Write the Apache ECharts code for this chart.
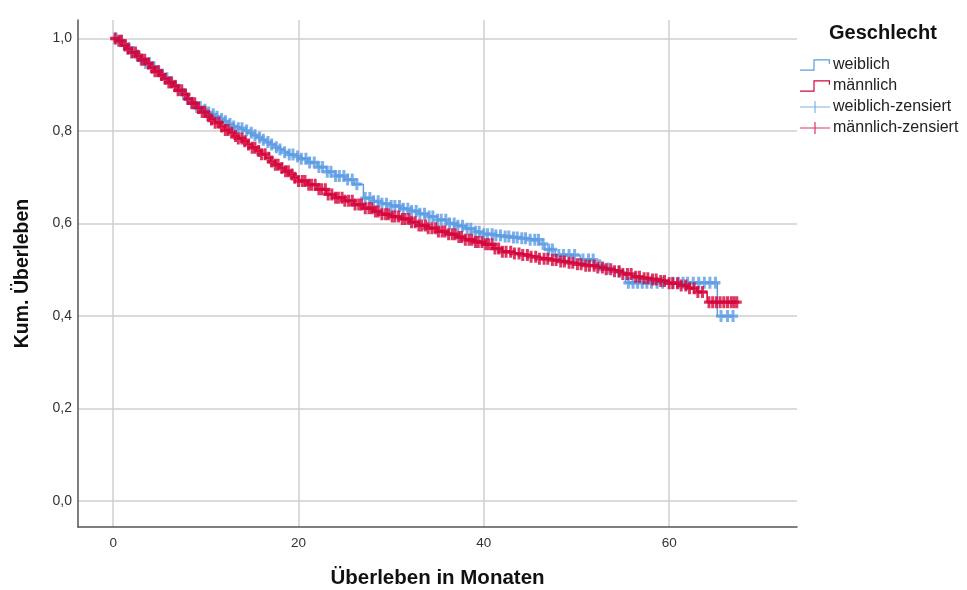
<!DOCTYPE html>
<html>
<head>
<meta charset="utf-8">
<script src="https://cdn.jsdelivr.net/npm/echarts@6/dist/echarts.min.js"></script>
<style>
html, body { margin: 0; padding: 0; background: #fff; }
#km { width: 967px; height: 590px; }
</style>
</head>
<body>
<div id="km"></div>
<script>
// Kaplan-Meier: Ueberleben nach Geschlecht
var xTicks = [0, 20, 40, 60];
var yTicks = [0, 0.2, 0.4, 0.6, 0.8, 1.0];

var femaleTime = [0, 0.5, 1, 1.5, 2, 2.5, 3, 3.5, 4, 4.5, 5, 5.5, 6, 6.5, 7, 7.5, 8, 8.5, 9, 9.5, 10, 10.5, 11, 11.5, 12, 12.5, 13, 13.5, 14, 14.5, 15, 15.5, 16, 16.5, 17, 17.5, 18, 18.5, 19, 19.5, 20, 21, 22, 23, 24, 25, 26, 27, 28, 29, 30, 31, 32, 33, 34, 35, 36, 37, 38, 39, 40, 41, 42, 43, 44, 45, 46, 46.6, 47.7, 50.4, 52, 53, 54.2, 55.3, 65.2, 67.0];
var femaleSurv = [1.0, 0.995, 0.986, 0.979, 0.971, 0.963, 0.955, 0.947, 0.938, 0.930, 0.922, 0.914, 0.906, 0.898, 0.889, 0.880, 0.870, 0.861, 0.852, 0.846, 0.840, 0.836, 0.831, 0.826, 0.821, 0.815, 0.810, 0.806, 0.801, 0.796, 0.791, 0.786, 0.781, 0.776, 0.771, 0.765, 0.760, 0.754, 0.749, 0.745, 0.740, 0.732, 0.722, 0.712, 0.703, 0.695, 0.685, 0.655, 0.648, 0.643, 0.638, 0.632, 0.627, 0.621, 0.615, 0.608, 0.600, 0.595, 0.589, 0.582, 0.577, 0.574, 0.572, 0.570, 0.568, 0.565, 0.556, 0.544, 0.532, 0.522, 0.510, 0.503, 0.495, 0.472, 0.400, 0.400];
var femaleCensored = [0.3, 0.8, 1.2, 1.7, 2.1, 2.6, 3.0, 3.5, 3.9, 4.4, 4.8, 5.3, 5.8, 6.2, 6.7, 7.1, 7.6, 8.0, 8.5, 9.0, 9.4, 9.9, 10.3, 10.8, 11.2, 11.7, 12.1, 12.6, 13.0, 13.5, 13.9, 14.4, 14.9, 15.3, 15.8, 16.2, 16.7, 17.1, 17.6, 18.0, 18.5, 19.0, 19.4, 19.9, 20.3, 20.8, 21.2, 21.7, 22.2, 22.6, 23.1, 23.5, 24.0, 24.4, 24.9, 25.3, 25.8, 26.3, 27.2, 27.7, 28.1, 28.6, 29.0, 29.5, 30.0, 30.4, 30.9, 31.3, 31.8, 32.2, 32.7, 33.1, 33.6, 34.1, 34.5, 35.0, 35.4, 35.9, 36.3, 36.8, 37.2, 37.7, 38.2, 38.6, 39.1, 39.5, 40.0, 40.4, 40.9, 41.3, 41.8, 42.3, 42.7, 43.2, 43.6, 44.1, 44.5, 45.0, 45.5, 45.9, 46.4, 47.0, 47.4, 48.1, 48.6, 49.2, 49.8, 50.7, 51.3, 51.8, 52.5, 53.4, 54.6, 55.6, 56.1, 56.6, 57.1, 57.6, 58.1, 58.7, 59.3, 60.4, 61.0, 61.5, 62.0, 62.6, 63.2, 63.8, 64.4, 65.0, 65.6, 66.3, 66.9];

var maleTime = [0, 0.5, 1, 1.5, 2, 2.5, 3, 3.5, 4, 4.5, 5, 5.5, 6, 6.5, 7, 7.5, 8, 8.5, 9, 9.5, 10, 10.5, 11, 11.5, 12, 12.5, 13, 13.5, 14, 14.5, 15, 15.5, 16, 16.5, 17, 17.5, 18, 18.5, 19, 19.5, 20, 21, 22, 23, 24, 25, 26, 27, 28, 29, 30, 31, 32, 33, 34, 35, 36, 37, 38, 39, 40, 41, 42, 43, 44, 45, 46, 47, 48, 49, 50, 51, 52, 53, 54, 55, 56, 57, 58, 59, 60, 61, 62, 63, 64.1, 67.3];
var maleSurv = [1.0, 0.995, 0.985, 0.978, 0.970, 0.962, 0.954, 0.946, 0.937, 0.929, 0.921, 0.913, 0.905, 0.897, 0.888, 0.879, 0.869, 0.860, 0.850, 0.841, 0.832, 0.825, 0.818, 0.810, 0.802, 0.796, 0.789, 0.784, 0.778, 0.771, 0.764, 0.757, 0.750, 0.742, 0.734, 0.727, 0.720, 0.713, 0.706, 0.699, 0.692, 0.684, 0.674, 0.663, 0.656, 0.649, 0.641, 0.633, 0.626, 0.620, 0.615, 0.610, 0.603, 0.596, 0.590, 0.583, 0.577, 0.571, 0.565, 0.560, 0.555, 0.546, 0.539, 0.535, 0.532, 0.528, 0.524, 0.521, 0.518, 0.515, 0.512, 0.509, 0.505, 0.501, 0.497, 0.491, 0.485, 0.482, 0.479, 0.476, 0.471, 0.466, 0.460, 0.452, 0.430, 0.430];
var maleCensored = [0.2, 0.6, 0.9, 1.3, 1.6, 2.0, 2.4, 2.7, 3.1, 3.4, 3.8, 4.2, 4.5, 4.9, 5.2, 5.6, 6.0, 6.3, 6.7, 7.0, 7.4, 7.8, 8.1, 8.5, 8.8, 9.2, 9.6, 9.9, 10.3, 10.6, 11.0, 11.4, 11.7, 12.1, 12.4, 12.8, 13.2, 13.5, 13.9, 14.2, 14.6, 15.0, 15.3, 15.7, 16.0, 16.4, 16.8, 17.1, 17.5, 17.8, 18.2, 18.6, 18.9, 19.3, 19.6, 20.0, 20.4, 20.7, 21.1, 21.4, 21.8, 22.2, 22.5, 22.9, 23.2, 23.6, 24.0, 24.3, 24.7, 25.0, 25.4, 25.8, 26.1, 26.5, 26.8, 27.2, 27.6, 27.9, 28.3, 28.6, 29.0, 29.4, 29.7, 30.1, 30.4, 30.8, 31.2, 31.5, 31.9, 32.2, 32.6, 33.0, 33.3, 33.7, 34.0, 34.4, 34.8, 35.1, 35.5, 35.8, 36.2, 36.6, 36.9, 37.3, 37.6, 38.0, 38.4, 38.7, 39.1, 39.4, 39.8, 40.2, 40.5, 40.9, 41.2, 41.6, 42.0, 42.4, 42.9, 43.3, 43.8, 44.2, 44.7, 45.1, 45.6, 46.0, 46.5, 46.9, 47.4, 47.8, 48.3, 48.7, 49.2, 49.6, 50.1, 50.5, 51.0, 51.4, 51.9, 52.3, 52.8, 53.2, 53.7, 54.1, 54.6, 55.0, 55.5, 55.9, 56.4, 56.8, 57.3, 57.7, 58.2, 58.6, 59.1, 59.5, 60.0, 60.4, 60.9, 61.3, 61.8, 62.2, 62.7, 63.1, 63.6, 64.3, 64.7, 65.1, 65.5, 65.9, 66.3, 66.7, 67.0, 67.3];

var blue = '#5c9ce4';
var red = '#d4063c';

function pairs(t, s) {
	return t.map(function(v, i) { return [v, s[i]]; });
}

// Wert der Treppenfunktion zum Zeitpunkt t
function survAt(times, surv, t) {
	var v = surv[0];
	for (var i = 0; i < times.length; i++) {
		if (times[i] <= t) v = surv[i];
	}
	return v;
}

function censorPoints(c, times, surv) {
	return c.map(function(t) { return [t, survAt(times, surv, t)]; });
}

var stepIcon = 'path://M0,10.8H13.4V0.6H30V5H28.8V1.8H14.6V12H0Z';
var plusIcon = 'path://M0,5.4H14.4V0H15.6V5.4H30V6.6H15.6V12H14.4V6.6H0Z';
var plusMark = 'path://M3.5,0H6.5V3.6H10V6.4H6.5V10H3.5V6.4H0V3.6H3.5Z';

var myChart = echarts.init(document.getElementById('km'));

var option = {
	backgroundColor: '#ffffff',
	animation: false,
	title: {
		text: 'Geschlecht',
		left: 824,
		top: 18,
		textStyle: { fontFamily: 'Liberation Sans', fontSize: 20, fontWeight: 'bold', color: '#111' }
	},
	legend: {
		orient: 'vertical',
		left: 795,
		top: 52,
		itemWidth: 30,
		itemHeight: 12,
		itemGap: 5,
		textStyle: { fontFamily: 'Liberation Sans', fontSize: 16, color: '#222', padding: [0, 0, 0, -2] },
		data: [
			{ name: 'weiblich', icon: stepIcon },
			{ name: 'männlich', icon: stepIcon },
			{ name: 'weiblich-zensiert', icon: plusIcon },
			{ name: 'männlich-zensiert', icon: plusIcon }
		]
	},
	grid: { left: 78, right: 170, top: 20, bottom: 63, containLabel: false, outerBoundsMode: 'none' },
	xAxis: {
		type: 'value',
		min: -3.8,
		max: 73.8,
		name: 'Überleben in Monaten',
		nameLocation: 'middle',
		nameGap: 41,
		nameTextStyle: { fontFamily: 'Liberation Sans', fontSize: 20.5, fontWeight: 'bold', color: '#111' },
		axisLine: { show: true, onZero: false, lineStyle: { color: '#555', width: 1.5 } },
		axisTick: { show: false, customValues: xTicks },
		axisLabel: { customValues: xTicks, margin: 9, fontFamily: 'Liberation Sans', fontSize: 13.5, color: '#333' },
		splitLine: { show: true, lineStyle: { color: '#cfcfcf', width: 1.5 } }
	},
	yAxis: {
		type: 'value',
		min: -0.056,
		max: 1.04,
		name: 'Kum. Überleben',
		nameLocation: 'middle',
		nameGap: 45,
		nameTextStyle: { fontFamily: 'Liberation Sans', fontSize: 19.5, fontWeight: 'bold', color: '#111' },
		axisLine: { show: true, onZero: false, lineStyle: { color: '#555', width: 1.5 } },
		axisTick: { show: false, customValues: yTicks },
		axisLabel: {
			customValues: yTicks,
			margin: 6,
			fontFamily: 'Liberation Sans',
			fontSize: 14,
			color: '#333',
			formatter: function(v) { return v.toFixed(1).replace('.', ','); }
		},
		splitLine: { show: true, lineStyle: { color: '#cfcfcf', width: 1.5 } }
	},
	series: [{
		name: 'weiblich',
		type: 'line',
		step: 'end',
		color: blue,
		showSymbol: false,
		lineStyle: { color: blue, width: 1.5 },
		itemStyle: { color: blue },
		data: pairs(femaleTime, femaleSurv),
		z: 2
	}, {
		name: 'weiblich-zensiert',
		type: 'scatter',
		symbol: plusMark,
		symbolSize: [10, 12],
		itemStyle: { color: blue },
		data: censorPoints(femaleCensored, femaleTime, femaleSurv),
		z: 3
	}, {
		name: 'männlich',
		type: 'line',
		step: 'end',
		color: red,
		showSymbol: false,
		lineStyle: { color: red, width: 1.5 },
		itemStyle: { color: red },
		data: pairs(maleTime, maleSurv),
		z: 4
	}, {
		name: 'männlich-zensiert',
		type: 'scatter',
		symbol: plusMark,
		symbolSize: [10, 12],
		itemStyle: { color: red },
		data: censorPoints(maleCensored, maleTime, maleSurv),
		z: 5
	}]
};

myChart.setOption(option);
</script>
</body>
</html>
